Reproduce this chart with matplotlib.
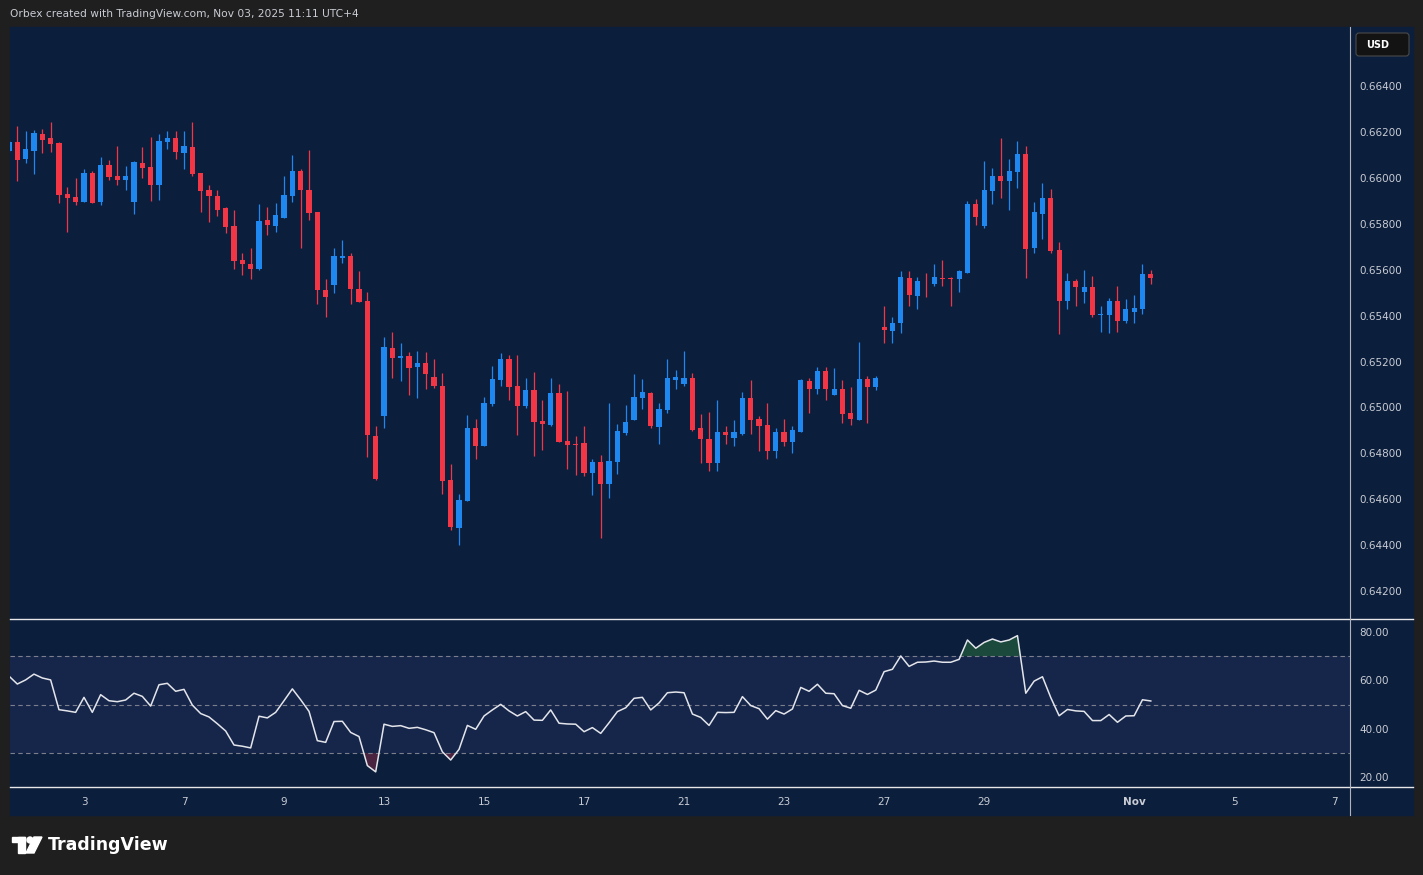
import numpy as np
import matplotlib
matplotlib.use('Agg')
from matplotlib import pyplot as plt
from matplotlib.patches import Rectangle, FancyBboxPatch, Polygon, Circle
from matplotlib.lines import Line2D
from matplotlib.ticker import FormatStrFormatter

# AUD/USD 4H candles, first one = Oct 1 12:00 (partly hidden at the left edge)
opens = [0.66118, 0.66156, 0.66083, 0.66118, 0.66191, 0.66173, 0.66151, 0.65929, 0.65916, 0.65895,
         0.66020, 0.65895, 0.66055, 0.66007, 0.65991, 0.65895, 0.66064, 0.66046, 0.65969, 0.66157,
         0.66173, 0.66109, 0.66134, 0.66020, 0.65946, 0.65920, 0.65868, 0.65789, 0.65641, 0.65627,
         0.65603, 0.65815, 0.65790, 0.65825, 0.65921, 0.66029, 0.65946, 0.65850, 0.65510, 0.65533,
         0.65651, 0.65662, 0.65514, 0.65462, 0.64877, 0.64961, 0.65261, 0.65214, 0.65226, 0.65178,
         0.65195, 0.65134, 0.65094, 0.64685, 0.64475, 0.64593, 0.64912, 0.64831, 0.65016, 0.65121,
         0.65209, 0.65095, 0.65008, 0.65077, 0.64942, 0.64924, 0.65064, 0.64855, 0.64839, 0.64843,
         0.64715, 0.64763, 0.64667, 0.64763, 0.64889, 0.64946, 0.65042, 0.65064, 0.64916, 0.64990,
         0.65121, 0.65101, 0.65130, 0.64912, 0.64863, 0.64759, 0.64894, 0.64868, 0.64885, 0.65042,
         0.64951, 0.64924, 0.64811, 0.64894, 0.64850, 0.64894, 0.65117, 0.65082, 0.65160, 0.65055,
         0.65082, 0.64977, 0.64946, 0.65125, 0.65090, 0.65352, 0.65335, 0.65366, 0.65566, 0.65484,
         0.65553, 0.65536, 0.65566, 0.65562, 0.65558, 0.65584, 0.65885, 0.65789, 0.65942, 0.66007,
         0.65985, 0.66025, 0.66103, 0.65697, 0.65841, 0.65911, 0.65684, 0.65466, 0.65553, 0.65505,
         0.65527, 0.65405, 0.65405, 0.65462, 0.65375, 0.65414, 0.65427, 0.65580]
highs = [0.66164, 0.66225, 0.66204, 0.66208, 0.66212, 0.66243, 0.66156, 0.65959, 0.65998, 0.66038,
         0.66029, 0.66090, 0.66077, 0.66138, 0.66051, 0.66073, 0.66134, 0.66177, 0.66191, 0.66204,
         0.66204, 0.66204, 0.66243, 0.66020, 0.65968, 0.65946, 0.65872, 0.65859, 0.65675, 0.65697,
         0.65885, 0.65872, 0.65889, 0.66007, 0.66099, 0.66038, 0.66121, 0.65850, 0.65559, 0.65697,
         0.65728, 0.65671, 0.65593, 0.65505, 0.64920, 0.65309, 0.65330, 0.65283, 0.65243, 0.65248,
         0.65243, 0.65213, 0.65152, 0.64755, 0.64623, 0.64968, 0.64951, 0.65046, 0.65182, 0.65237,
         0.65230, 0.65230, 0.65130, 0.65156, 0.65034, 0.65130, 0.65101, 0.65073, 0.64874, 0.64920,
         0.64776, 0.64794, 0.65020, 0.64929, 0.65012, 0.65147, 0.65125, 0.65068, 0.65020, 0.65213,
         0.65165, 0.65248, 0.65152, 0.64973, 0.64981, 0.65034, 0.64920, 0.64946, 0.65068, 0.65121,
         0.64964, 0.65020, 0.64912, 0.64951, 0.64920, 0.65125, 0.65130, 0.65178, 0.65178, 0.65173,
         0.65121, 0.65090, 0.65287, 0.65138, 0.65138, 0.65440, 0.65392, 0.65593, 0.65593, 0.65570,
         0.65584, 0.65627, 0.65641, 0.65570, 0.65601, 0.65898, 0.65907, 0.66073, 0.66042, 0.66173,
         0.66081, 0.66160, 0.66138, 0.65894, 0.65977, 0.65950, 0.65719, 0.65584, 0.65558, 0.65601,
         0.65575, 0.65440, 0.65475, 0.65531, 0.65471, 0.65492, 0.65623, 0.65601]
lows = [0.66112, 0.65987, 0.66065, 0.66017, 0.66109, 0.66113, 0.65891, 0.65764, 0.65882, 0.65895,
        0.65891, 0.65882, 0.65991, 0.65969, 0.65947, 0.65843, 0.66000, 0.65899, 0.65904, 0.66126,
        0.66083, 0.66039, 0.66009, 0.65851, 0.65808, 0.65834, 0.65760, 0.65603, 0.65576, 0.65559,
        0.65598, 0.65751, 0.65764, 0.65825, 0.65895, 0.65694, 0.65816, 0.65450, 0.65393, 0.65498,
        0.65629, 0.65450, 0.65458, 0.64782, 0.64682, 0.64909, 0.65130, 0.65117, 0.65055, 0.65042,
        0.65082, 0.65086, 0.64623, 0.64464, 0.64401, 0.64593, 0.64775, 0.64831, 0.65008, 0.65094,
        0.65034, 0.64881, 0.64999, 0.64789, 0.64816, 0.64920, 0.64850, 0.64730, 0.64706, 0.64702,
        0.64619, 0.64431, 0.64606, 0.64711, 0.64881, 0.64946, 0.64995, 0.64912, 0.64839, 0.64977,
        0.65082, 0.65094, 0.64898, 0.64759, 0.64724, 0.64724, 0.64839, 0.64831, 0.64881, 0.64885,
        0.64811, 0.64776, 0.64780, 0.64831, 0.64802, 0.64894, 0.64977, 0.65060, 0.65034, 0.65055,
        0.64933, 0.64924, 0.64946, 0.64933, 0.65077, 0.65279, 0.65283, 0.65326, 0.65444, 0.65431,
        0.65480, 0.65531, 0.65531, 0.65440, 0.65505, 0.65584, 0.65793, 0.65780, 0.65885, 0.65911,
        0.65859, 0.65955, 0.65566, 0.65671, 0.65732, 0.65675, 0.65322, 0.65431, 0.65444, 0.65453,
        0.65396, 0.65330, 0.65326, 0.65330, 0.65370, 0.65366, 0.65409, 0.65536]
closes = [0.66156, 0.66078, 0.66125, 0.66195, 0.66164, 0.66147, 0.65925, 0.65912, 0.65895, 0.66020,
          0.65891, 0.66055, 0.66004, 0.65991, 0.66007, 0.66068, 0.66043, 0.65969, 0.66160, 0.66173,
          0.66113, 0.66138, 0.66017, 0.65943, 0.65921, 0.65860, 0.65786, 0.65637, 0.65624, 0.65603,
          0.65811, 0.65795, 0.65837, 0.65924, 0.66029, 0.65947, 0.65847, 0.65511, 0.65480, 0.65658,
          0.65662, 0.65515, 0.65458, 0.64878, 0.64686, 0.65265, 0.65217, 0.65226, 0.65173, 0.65195,
          0.65147, 0.65092, 0.64680, 0.64479, 0.64597, 0.64912, 0.64831, 0.65020, 0.65125, 0.65209,
          0.65090, 0.65008, 0.65077, 0.64938, 0.64929, 0.65064, 0.64850, 0.64835, 0.64835, 0.64715,
          0.64763, 0.64667, 0.64767, 0.64898, 0.64938, 0.65046, 0.65068, 0.64920, 0.64995, 0.65130,
          0.65134, 0.65130, 0.64902, 0.64863, 0.64759, 0.64894, 0.64881, 0.64894, 0.65042, 0.64946,
          0.64920, 0.64811, 0.64894, 0.64850, 0.64902, 0.65121, 0.65082, 0.65160, 0.65082, 0.65082,
          0.64973, 0.64951, 0.65125, 0.65090, 0.65130, 0.65339, 0.65370, 0.65570, 0.65488, 0.65549,
          0.65549, 0.65570, 0.65558, 0.65558, 0.65593, 0.65885, 0.65828, 0.65946, 0.66007, 0.65985,
          0.66029, 0.66103, 0.65689, 0.65850, 0.65911, 0.65680, 0.65466, 0.65553, 0.65523, 0.65527,
          0.65405, 0.65409, 0.65462, 0.65375, 0.65431, 0.65435, 0.65580, 0.65566]
rsi = [61.8, 58.5, 60.2, 62.6, 61.0, 60.2, 47.9, 47.4, 46.8, 53.0, 46.8, 54.1, 51.6, 51.2, 51.9,
       54.7, 53.4, 49.4, 58.2, 58.8, 55.5, 56.3, 49.8, 46.3, 44.9, 42.1, 39.1, 33.3, 32.8, 32.1,
       45.2, 44.5, 46.8, 51.6, 56.5, 52.0, 47.2, 35.1, 34.4, 43.0, 43.1, 38.5, 36.8, 24.8, 22.2,
       41.9, 41.0, 41.3, 40.2, 40.6, 39.6, 38.4, 30.5, 27.1, 31.5, 41.4, 39.8, 45.3, 47.8, 50.1,
       47.4, 45.3, 47.1, 43.6, 43.5, 47.8, 42.3, 42.0, 41.9, 38.8, 40.5, 38.1, 42.5, 47.1, 48.7,
       52.6, 53.0, 47.8, 50.7, 54.9, 55.2, 54.9, 46.1, 44.7, 41.4, 46.8, 46.7, 46.8, 53.3, 49.6,
       48.3, 44.0, 47.5, 46.1, 48.2, 57.1, 55.5, 58.4, 54.7, 54.5, 49.6, 48.5, 55.9, 54.2, 56.0,
       63.6, 64.6, 70.1, 65.8, 67.5, 67.6, 68.0, 67.5, 67.5, 68.7, 76.7, 73.3, 75.7, 77.1, 75.9,
       76.7, 78.5, 54.7, 59.7, 61.5, 52.9, 45.4, 48.0, 47.4, 47.2, 43.4, 43.4, 45.9, 42.7, 45.3,
       45.4, 52.0, 51.5]

tick_dates = ['2025-10-03', '2025-10-07', '2025-10-09', '2025-10-13', '2025-10-15', '2025-10-17',
              '2025-10-21', '2025-10-23', '2025-10-27', '2025-10-29', '2025-11-03', '2025-11-05',
              '2025-11-07']
tick_labels = ['3', '7', '9', '13', '15', '17', '21', '23', '27', '29', 'Nov', '5', '7']
price_ticks = [0.642, 0.644, 0.646, 0.648, 0.650, 0.652, 0.654, 0.656, 0.658, 0.660, 0.662, 0.664]
rsi_ticks = [20, 40, 60, 80]

W, H = 1423, 875
frame = '#1f1f1f'
navy = '#0b1e3c'
band = '#16264b'
up_c = '#1e88f0'
dn_c = '#f23645'
txt = '#c9ccd4'

def box(l, t, r, b):
    return [l / W, 1 - b / H, (r - l) / W, (b - t) / H]

fig = plt.figure(figsize=(W / 100, H / 100), dpi=100, facecolor=frame)

bg = fig.add_axes([0, 0, 1, 1], zorder=-5)
bg.set_xlim(0, W)
bg.set_ylim(H, 0)
bg.axis('off')
bg.add_patch(Rectangle((10, 27), 1403, 788, color=navy))

o = np.array(opens)
h = np.array(highs)
l = np.array(lows)
c = np.array(closes)
x = np.arange(len(o)) - 1
cols = np.where(c >= o, up_c, dn_c)

ax = fig.add_axes(box(10, 27, 1350, 619), facecolor=navy)
ax.vlines(x, l, h, colors=cols, lw=0.9)
ax.bar(x, np.maximum(np.abs(c - o), 0.00003), bottom=np.minimum(o, c), width=0.62, color=cols)
ax.set_xlim(-0.876, 159.9)
ax.set_ylim(0.64078, 0.66658)
ax.yaxis.tick_right()
ax.set_yticks(price_ticks)
ax.yaxis.set_major_formatter(FormatStrFormatter('%.5f'))
ax.tick_params(axis='y', length=0, pad=7, labelsize=7.5, labelcolor=txt)
ax.set_xticks([])
for s in ax.spines.values():
    s.set_visible(False)

r = np.array(rsi)
rax = fig.add_axes(box(10, 620, 1350, 787), facecolor=navy)
rax.axhspan(30, 70, color=band, lw=0)
for lev in (70, 50, 30):
    rax.axhline(lev, color='#7b7f8c', lw=0.8, dashes=(4, 3))
rax.fill_between(x, r, 70, where=r > 70, interpolate=True, color='#1b4a3c', lw=0)
rax.fill_between(x, r, 30, where=r < 30, interpolate=True, color='#4a2341', lw=0)
rax.plot(x, r, color='#e3e5ea', lw=1.1)
rax.set_xlim(-0.876, 159.9)
rax.set_ylim(15.95, 84.96)
rax.yaxis.tick_right()
rax.set_yticks(rsi_ticks)
rax.yaxis.set_major_formatter(FormatStrFormatter('%.2f'))
rax.tick_params(axis='y', length=0, pad=7, labelsize=7.5, labelcolor=txt)
tick_x = [6 * np.busday_count('2025-10-01', d) - 4 for d in tick_dates]
rax.set_xticks(tick_x)
rax.set_xticklabels(tick_labels)
rax.tick_params(axis='x', length=0, pad=7, labelsize=7.5, labelcolor=txt)
for t in rax.get_xticklabels():
    if t.get_text() == 'Nov':
        t.set_fontweight('bold')
for s in rax.spines.values():
    s.set_visible(False)

# pane separators and price scale border
for y in (619, 787):
    fig.add_artist(Line2D([10 / W, 1413 / W], [1 - y / H, 1 - y / H], color='#e8e8e8', lw=1.0))
fig.add_artist(Line2D([1350 / W, 1350 / W], [1 - 27 / H, 1 - 815 / H], color='#b0b3bb', lw=0.8))

# USD badge
bg.add_patch(FancyBboxPatch((1356, 33), 53, 23, boxstyle='round,pad=0,rounding_size=3',
                            fc='#131313', ec='#4a4a4a', lw=0.8))
bg.text(1366, 45, 'USD', color='white', fontsize=7, fontweight='bold', va='center')

# header and logo
fig.text(10 / W, 1 - 14 / H, 'Orbex created with TradingView.com, Nov 03, 2025 11:11 UTC+4',
         color=txt, fontsize=7.7, va='center')
bg.add_patch(Rectangle((12, 837), 13, 5, color='white'))
bg.add_patch(Rectangle((18, 837), 7, 16, color='white'))
bg.add_patch(Circle((30, 840), 3, color='white'))
bg.add_patch(Polygon([(34, 837), (42, 837), (34, 853), (26, 853)], color='white'))
bg.text(48, 845, 'TradingView', color='white', fontsize=12.5, fontweight='bold', va='center')

fig.savefig('out.png', dpi=100, facecolor=frame)
